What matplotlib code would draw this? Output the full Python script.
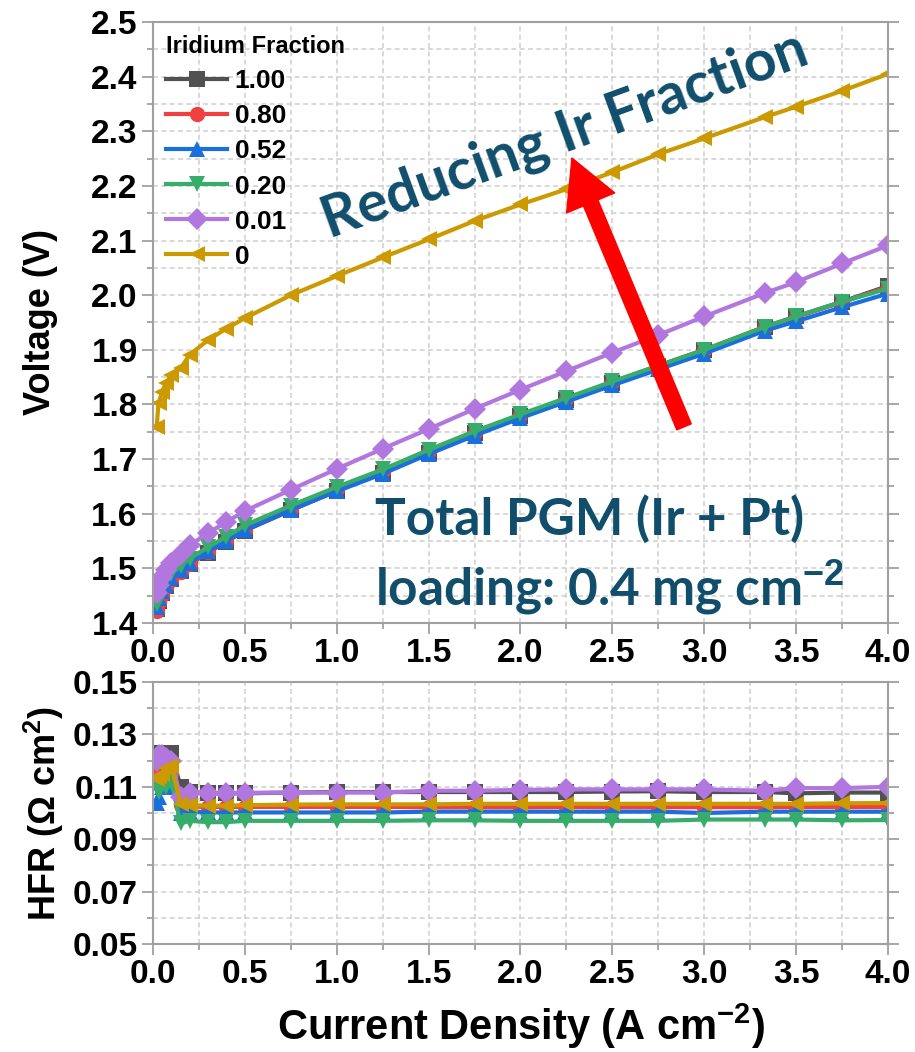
import matplotlib
matplotlib.use("Agg")
import matplotlib.pyplot as plt
from matplotlib.ticker import MultipleLocator, FormatStrFormatter

plt.rcParams['font.family'] = 'Liberation Sans'
plt.rcParams['font.weight'] = 'bold'
plt.rcParams['mathtext.fontset'] = 'custom'
plt.rcParams['mathtext.rm'] = 'Liberation Sans:bold'
plt.rcParams['mathtext.it'] = 'Liberation Sans:bold'
plt.rcParams['mathtext.bf'] = 'Liberation Sans:bold'

# current density (A cm-2)
current = [0.02, 0.03, 0.05, 0.07, 0.1, 0.15, 0.2, 0.3, 0.4, 0.5, 0.75, 1.0,
           1.25, 1.5, 1.75, 2.0, 2.25, 2.5, 2.75, 3.0, 3.33, 3.5, 3.75, 4.0]

labels  = ["1.00", "0.80", "0.52", "0.20", "0.01", "0"]
colors  = ["#515151", "#F14040", "#1A6FDF", "#37AD6B", "#B177DE", "#CC9900"]
markers = ["s", "o", "^", "v", "D", "<"]

hfr_ticks = [0.05, 0.07, 0.09, 0.11, 0.13, 0.15]

# polarization curves (V)
v_100 = [1.425, 1.440, 1.455, 1.467, 1.480, 1.495, 1.508, 1.529, 1.549, 1.569, 1.606, 1.642,
         1.675, 1.712, 1.747, 1.779, 1.809, 1.840, 1.870, 1.899, 1.942, 1.961, 1.988, 2.017]
v_080 = [1.422, 1.438, 1.452, 1.465, 1.478, 1.494, 1.508, 1.530, 1.550, 1.571, 1.609, 1.645,
         1.678, 1.714, 1.749, 1.780, 1.810, 1.841, 1.871, 1.900, 1.942, 1.960, 1.987, 2.015]
v_052 = [1.430, 1.445, 1.458, 1.470, 1.482, 1.497, 1.510, 1.531, 1.550, 1.570, 1.607, 1.641,
         1.673, 1.709, 1.743, 1.775, 1.805, 1.835, 1.864, 1.893, 1.935, 1.952, 1.978, 2.003]
v_020 = [1.435, 1.450, 1.465, 1.478, 1.490, 1.505, 1.518, 1.539, 1.558, 1.579, 1.615, 1.649,
         1.681, 1.717, 1.751, 1.782, 1.812, 1.842, 1.871, 1.900, 1.942, 1.961, 1.988, 2.012]
v_001 = [1.455, 1.470, 1.485, 1.497, 1.510, 1.527, 1.542, 1.565, 1.585, 1.605, 1.644, 1.682,
         1.719, 1.755, 1.792, 1.827, 1.861, 1.895, 1.927, 1.961, 2.004, 2.024, 2.058, 2.091]
v_000 = [1.759, 1.802, 1.823, 1.839, 1.854, 1.866, 1.891, 1.918, 1.939, 1.958, 2.000, 2.035,
         2.069, 2.102, 2.136, 2.166, 2.194, 2.225, 2.258, 2.287, 2.326, 2.345, 2.374, 2.405]

# high frequency resistance (Ohm cm2)
h_100 = [0.123, 0.123, 0.122, 0.123, 0.123, 0.110, 0.108, 0.1075, 0.1075, 0.1075, 0.1078, 0.108,
         0.108, 0.108, 0.108, 0.108, 0.108, 0.1082, 0.1083, 0.108, 0.108, 0.1075, 0.1078, 0.1078]
h_080 = [0.115, 0.116, 0.114, 0.116, 0.115, 0.103, 0.1025, 0.1023, 0.1023, 0.1023, 0.1023, 0.1023,
         0.1023, 0.1022, 0.1022, 0.1022, 0.1023, 0.1022, 0.1022, 0.1022, 0.1022, 0.1023, 0.1023, 0.1023]
h_052 = [0.104, 0.106, 0.110, 0.112, 0.110, 0.100, 0.1005, 0.1002, 0.1002, 0.1002, 0.1002, 0.1002,
         0.1002, 0.1005, 0.1005, 0.1005, 0.1005, 0.1005, 0.1005, 0.100, 0.1005, 0.1005, 0.1005, 0.1005]
h_020 = [0.110, 0.108, 0.111, 0.110, 0.112, 0.096, 0.097, 0.0965, 0.0965, 0.097, 0.097, 0.097,
         0.097, 0.0972, 0.0972, 0.097, 0.097, 0.097, 0.097, 0.0975, 0.0975, 0.0975, 0.0972, 0.0973]
h_001 = [0.120, 0.122, 0.122, 0.121, 0.120, 0.106, 0.1075, 0.1075, 0.1075, 0.1077, 0.1078, 0.1078,
         0.1078, 0.1085, 0.1085, 0.1088, 0.109, 0.109, 0.109, 0.109, 0.1085, 0.1095, 0.1095, 0.110]
h_000 = [0.113, 0.114, 0.115, 0.117, 0.118, 0.1035, 0.103, 0.1028, 0.1028, 0.103, 0.1032, 0.1033,
         0.1033, 0.1033, 0.1035, 0.1035, 0.1035, 0.1035, 0.1035, 0.1035, 0.1035, 0.1035, 0.1037, 0.1038]

volts = [v_100, v_080, v_052, v_020, v_001, v_000]
hfrs  = [h_100, h_080, h_052, h_020, h_001, h_000]

fig = plt.figure(figsize=(9.15, 10.52), dpi=100)
ax1 = fig.add_axes([0.1672, 0.4078, 0.8033, 0.5713])
ax2 = fig.add_axes([0.1672, 0.1027, 0.8033, 0.2490])

for v, h, lab, c, m in zip(volts, hfrs, labels, colors, markers):
    ax1.plot(current, v, color=c, marker=m, lw=3, ms=11, mew=0, label=lab)
    ax2.plot(current, h, color=c, marker=m, lw=3, ms=11, mew=0)

def style(ax):
    ax.set_xlim(0, 4.0)
    ax.xaxis.set_major_locator(MultipleLocator(0.5))
    ax.xaxis.set_minor_locator(MultipleLocator(0.25))
    ax.xaxis.set_major_formatter(FormatStrFormatter('%.1f'))
    ax.grid(True, which='both', color='#d2d2d2', ls=(0, (3, 2)), lw=1.2)
    ax.set_axisbelow(True)
    for s in ax.spines.values():
        s.set_color('#a0a0a0')
        s.set_linewidth(1.5)
    ax.tick_params(which='both', labelsize=24, color='#a0a0a0', width=1.3)
    ax.tick_params(which='major', length=8, pad=3)
    ax.tick_params(which='minor', length=4)
    ax.tick_params(which='both', right=True, top=False)
    for lab in ax.get_xticklabels() + ax.get_yticklabels():
        lab.set_fontweight('bold')

style(ax1)
ax1.set_ylim(1.4, 2.5)
ax1.yaxis.set_major_locator(MultipleLocator(0.1))
ax1.yaxis.set_minor_locator(MultipleLocator(0.05))
ax1.yaxis.set_major_formatter(FormatStrFormatter('%.1f'))
ax1.set_ylabel("Voltage (V)", fontsize=26, fontweight='bold', labelpad=24)

style(ax2)
ax2.set_ylim(0.05, 0.15)
ax2.set_yticks(hfr_ticks)
ax2.yaxis.set_minor_locator(MultipleLocator(0.01))
ax2.yaxis.set_major_formatter(FormatStrFormatter('%.2f'))
for lab in ax2.get_yticklabels():
    lab.set_fontweight('bold')
ax2.set_ylabel("HFR (Ω cm$^{2}$)", fontsize=26, fontweight='bold', labelpad=5)
ax2.set_xlabel("Current Density (A cm$^{-2}$)", fontsize=30, fontweight='bold', labelpad=8)

leg = ax1.legend(title="Iridium Fraction", loc='upper left', frameon=False,
                 fontsize=19, title_fontsize=17, handlelength=2.3, labelspacing=0.42,
                 handletextpad=0.3, borderaxespad=0.3, borderpad=0.2)
leg._legend_box.align = "left"
for t in leg.get_texts():
    t.set_fontweight('bold')
leg.get_title().set_fontweight('bold')

navy = '#104E6C'
ax1.text(2.24, 2.293, "Reducing Ir Fraction", family='Lato', fontweight='bold', fontsize=41,
         color=navy, rotation=20, ha='center', va='center', rotation_mode='anchor')
ax1.text(1.21, 1.589, "Total PGM (Ir + Pt)", family='Lato', fontweight='bold', fontsize=37,
         color=navy, ha='left', va='center')
ax1.text(1.21, 1.464, "loading: 0.4 mg cm$^{-2}$", family='Lato', fontweight='bold', fontsize=37,
         color=navy, ha='left', va='center')

ax1.annotate("", xy=(2.28, 2.251), xytext=(2.89, 1.759),
             arrowprops=dict(arrowstyle='simple,head_width=1.5,head_length=1.4,tail_width=0.45',
                             color='#FF0000', mutation_scale=25, shrinkA=0, shrinkB=0))

fig.savefig("out.png", dpi=100)
